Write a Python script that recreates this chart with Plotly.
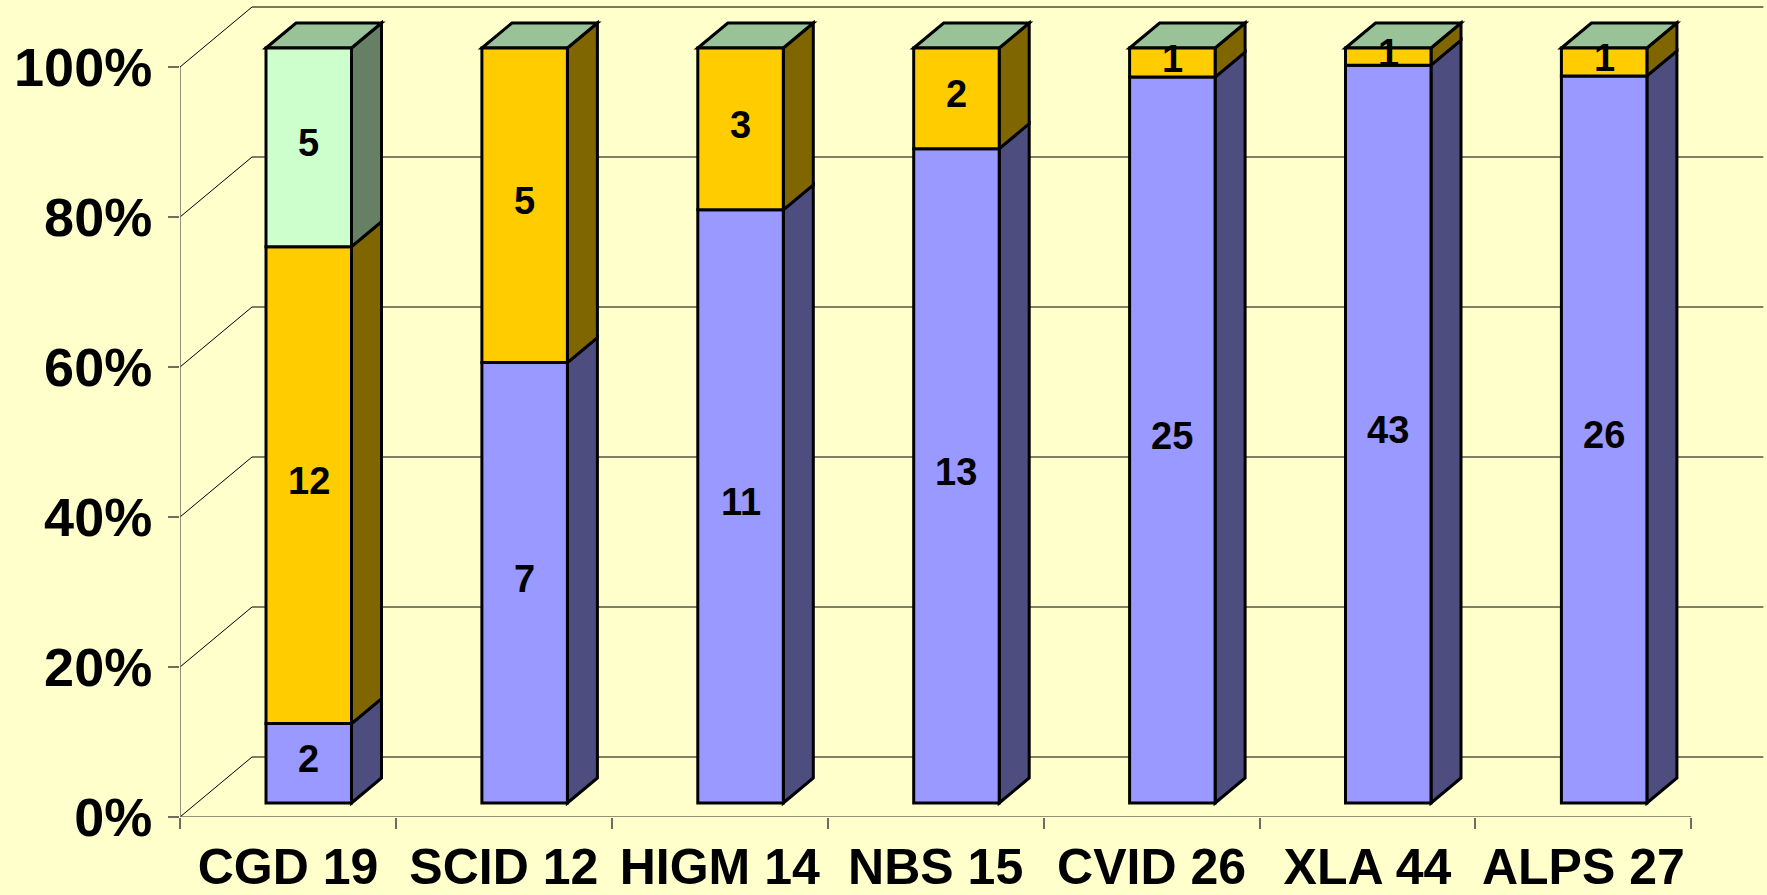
import plotly.graph_objects as go

# ---------------- data ----------------
categories = ["CGD 19", "SCID 12", "HIGM 14", "NBS 15", "CVID 26", "XLA 44", "ALPS 27"]
blue_vals = [2, 7, 11, 13, 25, 43, 26]
yellow_vals = [12, 5, 3, 2, 1, 1, 1]
green_vals = [5, 0, 0, 0, 0, 0, 0]
y_ticks = [0, 20, 40, 60, 80, 100]

series = [
    ("blue", blue_vals, "#9999FF", "#4D4D80"),
    ("yellow", yellow_vals, "#FFCC00", "#806600"),
    ("green", green_vals, "#CCFFCC", "#668066"),
]
TOP_COLOR = "#99C299"
BG = "#FFFFCC"

# ---------------- geometry (pixel -> data units) ----------------
W, H = 1767, 895
ML, MB = 180, 78
PX_X = 215.9          # px per category
PX_Y = 7.5            # px per percent
N = len(categories)

WALL_DX = 72 / PX_X
WALL_DY = 60 / PX_Y
BAR_LEFT = 86 / PX_X
BAR_W = 85.5 / PX_X
BAR_DX = 30 / PX_X
BAR_DY = 25 / PX_Y
BAR_BASE = 14 / PX_Y
BAR_SCALE = 755 / 750

FONT = "Liberation Sans, Arial, sans-serif"

totals = [sum(s[1][i] for s in series) for i in range(N)]

fig = go.Figure()
shapes = []
annotations = []


def path(pts):
    return "M " + " L ".join(f"{x},{y}" for x, y in pts) + " Z"


# gridlines: side wall diagonals + back wall horizontals
for p in y_ticks:
    shapes.append(dict(type="line", xref="x", yref="y", layer="below",
                       x0=0, y0=p, x1=WALL_DX, y1=p + WALL_DY,
                       line=dict(color="#000000", width=1)))
    top = p == y_ticks[-1]
    shapes.append(dict(type="line", xref="x", yref="y", layer="below",
                       x0=WALL_DX, y0=p + WALL_DY, x1=N + WALL_DX, y1=p + WALL_DY,
                       line=dict(color="#77776A" if top else "#000000", width=2 if top else 1)))

# front axis lines
shapes.append(dict(type="line", xref="x", yref="y", layer="below",
                   x0=0, y0=0, x1=0, y1=y_ticks[-1], line=dict(color="#6E6E5E", width=1.5)))
shapes.append(dict(type="line", xref="x", yref="y", layer="below",
                   x0=0, y0=0, x1=N, y1=0, line=dict(color="#6E6E5E", width=1.5)))

# bars
for si, (name, vals, front, side) in enumerate(series):
    xs, bases, heights = [], [], []
    for i in range(N):
        v = vals[i]
        if v == 0:
            continue
        cum = sum(s[1][i] for s in series[:si])
        pct0 = cum / totals[i] * 100
        pct = v / totals[i] * 100
        b0 = BAR_BASE + pct0 * BAR_SCALE
        h = pct * BAR_SCALE
        xl = i + BAR_LEFT
        xr = xl + BAR_W
        xs.append(xl + BAR_W / 2)
        bases.append(b0)
        heights.append(h)
        # side face
        shapes.append(dict(type="path", xref="x", yref="y", layer="below",
                           path=path([(xr, b0), (xr + BAR_DX, b0 + BAR_DY),
                                      (xr + BAR_DX, b0 + h + BAR_DY), (xr, b0 + h)]),
                           fillcolor=side, line=dict(color="#000000", width=3)))
        annotations.append(dict(x=xl + BAR_W / 2, y=b0 + h / 2, xref="x", yref="y",
                                text=str(v), showarrow=False, yshift=4,
                                font=dict(family=FONT, size=38, color="#000000", weight="bold")))
    fig.add_trace(go.Bar(x=xs, y=heights, base=bases, width=BAR_W,
                         marker=dict(color=front, line=dict(color="#000000", width=3)),
                         name=name, showlegend=False, hoverinfo="skip"))

# top faces
for i in range(N):
    xl = i + BAR_LEFT
    xr = xl + BAR_W
    t = BAR_BASE + 100 * BAR_SCALE
    shapes.append(dict(type="path", xref="x", yref="y", layer="below",
                       path=path([(xl, t), (xl + BAR_DX, t + BAR_DY),
                                  (xr + BAR_DX, t + BAR_DY), (xr, t)]),
                       fillcolor=TOP_COLOR, line=dict(color="#000000", width=3)))

fig.update_layout(
    width=W, height=H,
    margin=dict(l=ML, r=0, t=0, b=MB, pad=0, autoexpand=False),
    paper_bgcolor=BG, plot_bgcolor=BG,
    barmode="overlay",
    shapes=shapes,
    annotations=annotations,
    showlegend=False,
    xaxis=dict(range=[0, (W - ML) / PX_X], showgrid=False, zeroline=False, showline=False,
               automargin=False,
               tickmode="array", tickvals=[i + 0.5 for i in range(N)], ticktext=categories,
               ticks="", tickangle=0, ticklabelstandoff=16,
               tickfont=dict(family=FONT, size=50, color="#000000", weight="bold"),
               minor=dict(tickmode="array", tickvals=list(range(N + 1)), ticks="outside",
                          ticklen=11, tickwidth=1.5, tickcolor="#6E6E5E", showgrid=False),
               fixedrange=True),
    yaxis=dict(range=[0, (H - MB) / PX_Y], showgrid=False, zeroline=False, showline=False,
               automargin=False,
               tickmode="array", tickvals=y_ticks, ticktext=[f"{v}%" for v in y_ticks],
               ticks="outside", ticklen=11, tickwidth=1.5, tickcolor="#6E6E5E",
               ticklabelstandoff=5,
               tickfont=dict(family=FONT, size=54, color="#000000", weight="bold"),
               fixedrange=True),
)

fig.write_html("out.html")
